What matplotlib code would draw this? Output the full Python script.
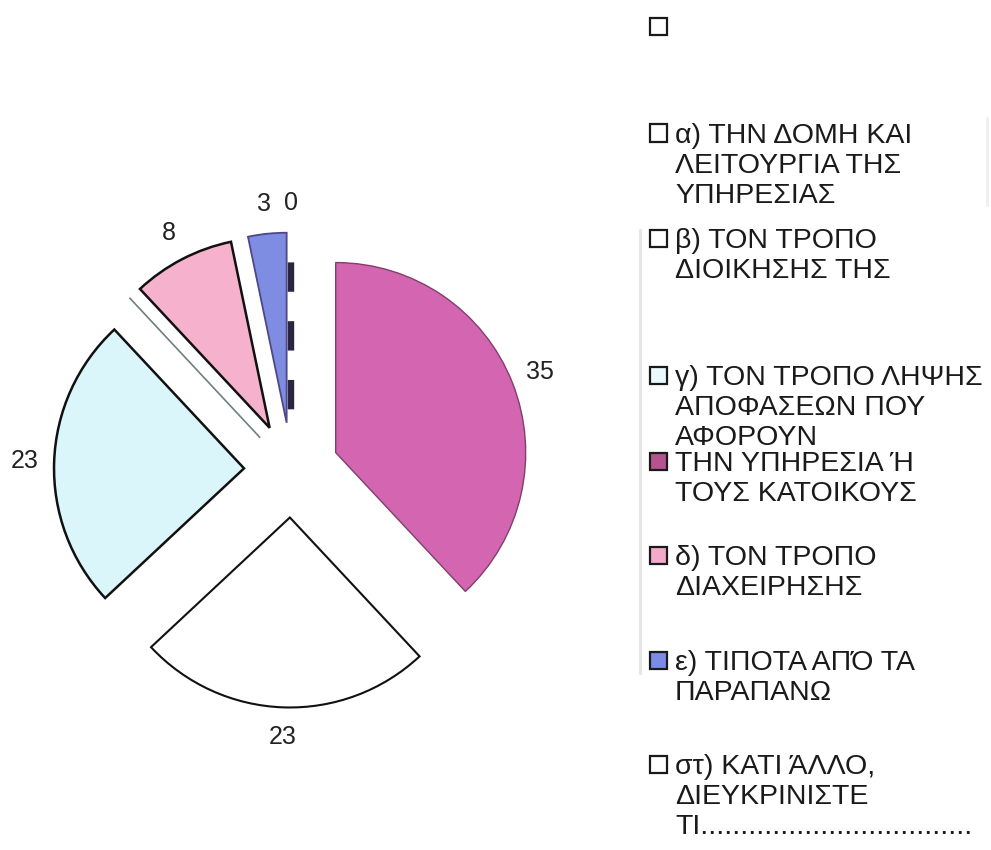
import numpy as np
import matplotlib
matplotlib.use("Agg")
import matplotlib.pyplot as plt
from matplotlib.patches import Rectangle
from matplotlib.lines import Line2D

plt.rcParams['font.family'] = ['Liberation Sans', 'DejaVu Sans']

# Answers per option, drawn clockwise from 12 o'clock
slice_values = [35, 23, 23, 8, 3, 0]
slice_colors = ['#D465B0', '#FFFFFF', '#DBF6FB', '#F6B2CD', '#7E8CE2', '#FFFFFF']
slice_edges = ['#7E3F6C', '#111111', '#111111', '#111111', '#4F4788', 'none']
slice_widths = [1.0, 1.5, 1.8, 1.8, 1.3, 0.0]

# Legend entries (category names and their swatch colours)
legend_labels = [
    "",
    "α) ΤΗΝ ΔΟΜΗ ΚΑΙ\nΛΕΙΤΟΥΡΓΙΑ ΤΗΣ\nΥΠΗΡΕΣΙΑΣ",
    "β) ΤΟΝ ΤΡΟΠΟ\nΔΙΟΙΚΗΣΗΣ ΤΗΣ",
    "γ) ΤΟΝ ΤΡΟΠΟ ΛΗΨΗΣ\nΑΠΟΦΑΣΕΩΝ ΠΟΥ\nΑΦΟΡΟΥΝ",
    "ΤΗΝ ΥΠΗΡΕΣΙΑ Ή\nΤΟΥΣ ΚΑΤΟΙΚΟΥΣ",
    "δ) ΤΟΝ ΤΡΟΠΟ\nΔΙΑΧΕΙΡΗΣΗΣ",
    "ε) ΤΙΠΟΤΑ ΑΠΌ ΤΑ\nΠΑΡΑΠΑΝΩ",
    "στ) ΚΑΤΙ ΆΛΛΟ,\nΔΙΕΥΚΡΙΝΙΣΤΕ\nΤΙ" + "." * 34,
]
legend_colors = ['#FFFFFF', '#FFFFFF', '#FFFFFF', '#EAF9FC', '#B4548F',
                 '#F2AACA', '#7C8CE6', '#FFFFFF']

W, H, DPI = 991, 850, 100
fig = plt.figure(figsize=(W / DPI, H / DPI), dpi=DPI)
ax = fig.add_axes([0, 0, 1, 1])

# pie centre and radius in pixels (top-left origin)
cx, cy, R = 291.5, 470.0, 190.0

wedges, texts = ax.pie(
    slice_values,
    labels=[str(v) for v in slice_values],
    colors=slice_colors,
    startangle=90,
    counterclock=False,
    explode=[0.25] * len(slice_values),
    labeldistance=1.155,
    textprops=dict(fontsize=18, color='#222222'),
)
for w, ec, lw in zip(wedges, slice_edges, slice_widths):
    w.set_edgecolor(ec)
    w.set_linewidth(lw)
for t in texts:
    t.set_ha('center')
    t.set_va('center')

# the empty category: a dashed radius along its (zero-width) wedge, outer end first
zw = wedges[-1]
ang = np.deg2rad(zw.theta1)
x0, y0 = zw.center
ax.add_line(Line2D([x0 + zw.r * np.cos(ang), x0], [y0 + zw.r * np.sin(ang), y0],
                   color='#2B2540', lw=4.6, linestyle=(4.6, (4.6, 4.6)),
                   solid_capstyle='butt', dash_capstyle='butt', zorder=3))

# faint ghost edge just outside the pink wedge
pw = wedges[3]
a2 = np.deg2rad(pw.theta2)
px, py = pw.center
off = 0.072
nx, ny = -np.sin(a2), np.cos(a2)  # unit normal pointing away from the wedge
ax.add_line(Line2D([px + off * nx, px + off * nx + pw.r * np.cos(a2)],
                   [py + off * ny, py + off * ny + pw.r * np.sin(a2)],
                   color='#6F7F7F', lw=1.2, zorder=1))

ax.set_xlim(-cx / R, (W - cx) / R)
ax.set_ylim((cy - H) / R, cy / R)
ax.set_aspect('auto')
ax.axis('off')


def fx(px_):
    return px_ / W


def fy(py_):
    return 1 - py_ / H


# legend drawn on the right
first_line = [26.5, 133, 238, 375, 461, 555, 660, 764]
pitch = 30.0
fs = 20.5
cap = 0.716 * fs * DPI / 72
box = 17
for label, col, yc in zip(legend_labels, legend_colors, first_line):
    fig.add_artist(Rectangle((fx(650), fy(yc + box / 2)), box / W, box / H,
                             transform=fig.transFigure, facecolor=col,
                             edgecolor='#1A1A1A', lw=1.6))
    if not label:
        continue
    for i, line in enumerate(label.split("\n")):
        fig.text(fx(675), fy(yc + i * pitch + cap / 2), line, fontsize=fs,
                 color='#1A1A1A', ha='left', va='baseline')

# faint frame remnants of the legend
fig.add_artist(Line2D([fx(640), fx(640)], [fy(230), fy(673)],
                      transform=fig.transFigure, color='#E4E4E4', lw=2))
fig.add_artist(Line2D([fx(987), fx(987)], [fy(118), fy(205)],
                      transform=fig.transFigure, color='#EFEFEF', lw=2))

fig.savefig('out.png', dpi=DPI, facecolor='white')
